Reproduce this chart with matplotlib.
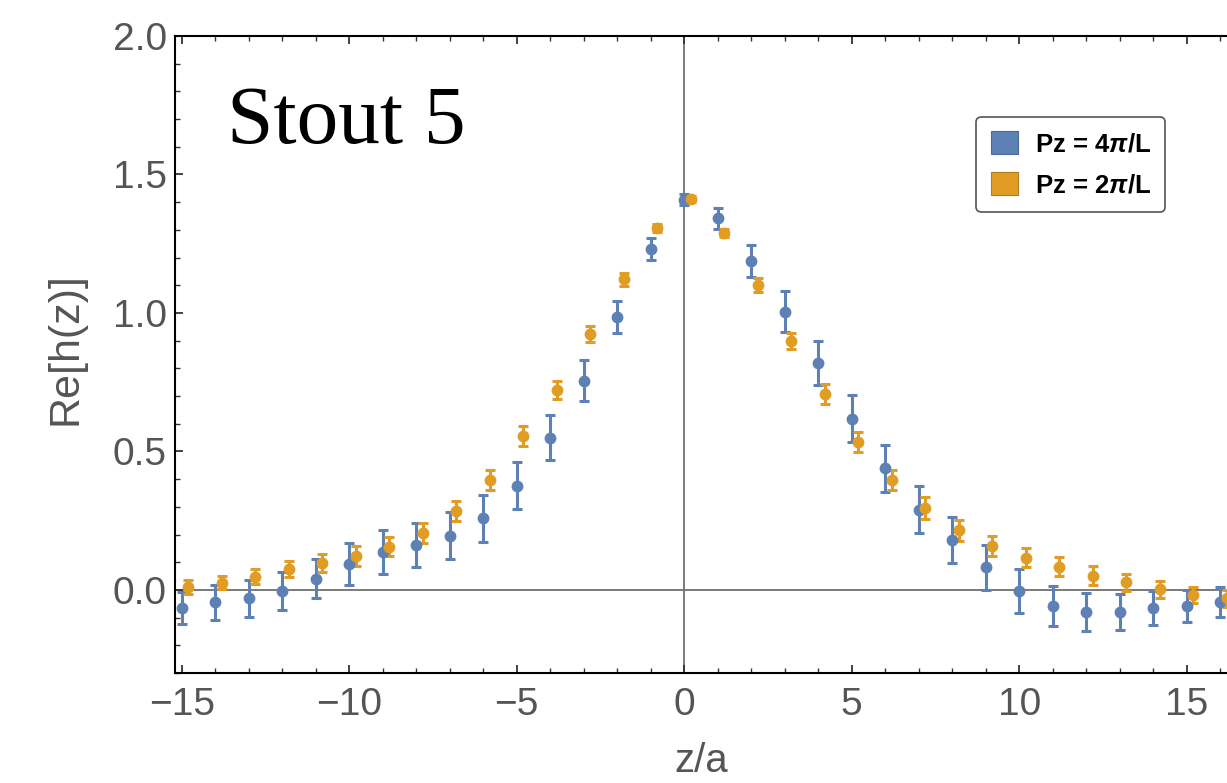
import numpy as np
import matplotlib
matplotlib.use("Agg")
from matplotlib import pyplot as plt
from matplotlib.patches import Patch
from matplotlib.ticker import MultipleLocator, FormatStrFormatter

# separation z/a
z = np.arange(-15, 17)

# Pz = 4 pi / L  (blue)
h_4pi = [-0.064, -0.045, -0.030, -0.004, 0.040, 0.094, 0.136, 0.162, 0.196, 0.259,
         0.377, 0.550, 0.755, 0.985, 1.231, 1.408,
         1.342, 1.189, 1.005, 0.818, 0.618, 0.439, 0.290, 0.180, 0.082, -0.004,
         -0.059, -0.080, -0.080, -0.065, -0.059, -0.043]
err_4pi = [0.058, 0.062, 0.066, 0.068, 0.070, 0.075, 0.079, 0.080, 0.084, 0.085,
           0.084, 0.080, 0.074, 0.059, 0.040, 0.020,
           0.038, 0.058, 0.073, 0.079, 0.084, 0.084, 0.085, 0.083, 0.081, 0.078,
           0.073, 0.068, 0.064, 0.060, 0.058, 0.055]

# Pz = 2 pi / L  (orange)
h_2pi = [0.010, 0.026, 0.048, 0.076, 0.096, 0.123, 0.156, 0.205, 0.285, 0.397,
         0.556, 0.722, 0.923, 1.122, 1.306, 1.412,
         1.288, 1.101, 0.899, 0.707, 0.535, 0.397, 0.295, 0.215, 0.160, 0.117,
         0.084, 0.052, 0.027, 0.002, -0.018, -0.031]
err_2pi = [0.025, 0.024, 0.027, 0.029, 0.032, 0.035, 0.035, 0.036, 0.037, 0.037,
           0.035, 0.032, 0.029, 0.024, 0.015, 0.010,
           0.015, 0.025, 0.030, 0.035, 0.036, 0.037, 0.040, 0.039, 0.036, 0.036,
           0.034, 0.033, 0.032, 0.030, 0.030, 0.030]

labels = [r"Pz = 4$\pi$/L", r"Pz = 2$\pi$/L"]
blue = "#5e81b5"
orange = "#e19c24"
gray = "#555555"

plt.rcParams["font.family"] = ["Liberation Sans", "DejaVu Sans"]
plt.rcParams["mathtext.fontset"] = "custom"
plt.rcParams["mathtext.it"] = "Liberation Sans:italic:bold"
plt.rcParams["mathtext.rm"] = "Liberation Sans:bold"

fig = plt.figure(figsize=(12.27, 7.83), dpi=100)
ax = fig.add_axes([175 / 1227, 1 - 673 / 783, 1 - 175 / 1227, (673 - 36) / 783])

ax.axhline(0, color="#707070", lw=1.3, zorder=1)
ax.axvline(0, color="#707070", lw=1.3, zorder=1)

ax.errorbar(z, h_4pi, yerr=err_4pi, fmt="o", ms=7.5, color=blue,
            elinewidth=2.2, capsize=3.6, capthick=2.2, zorder=3)
ax.errorbar(z + 0.2, h_2pi, yerr=err_2pi, fmt="o", ms=7.5, color=orange,
            elinewidth=2.2, capsize=3.6, capthick=2.2, zorder=3)

ax.set_xlim(-15.2, 16.2)
ax.set_ylim(-0.3, 2.0)
ax.xaxis.set_major_locator(MultipleLocator(5))
ax.xaxis.set_minor_locator(MultipleLocator(1))
ax.yaxis.set_major_locator(MultipleLocator(0.5))
ax.yaxis.set_minor_locator(MultipleLocator(0.1))
ax.yaxis.set_major_formatter(FormatStrFormatter("%.1f"))

for s in ["left", "bottom", "top"]:
    ax.spines[s].set_linewidth(1.5)
    ax.spines[s].set_color("black")
ax.spines["right"].set_visible(False)

ax.tick_params(which="both", direction="in", top=True, right=False,
               color="#333333", labelcolor=gray, labelsize=28)
ax.tick_params(which="major", length=6, width=1.3)
ax.tick_params(which="minor", length=3.5, width=1.0)
ax.tick_params(axis="x", pad=10)
ax.tick_params(axis="y", pad=6)

ax.set_xlabel("z/a", fontsize=29, color=gray, labelpad=14)
ax.set_ylabel("Re[h(z)]", fontsize=31, color=gray, labelpad=10)
ax.yaxis.set_label_coords(-0.085, 0.51)

fig.text(227 / 1227, 1 - 143 / 783, "Stout 5", fontsize=60,
         family="Liberation Serif", color="black", ha="left", va="baseline")

handles = [Patch(facecolor=blue, edgecolor="#4a6a99", lw=0.8),
           Patch(facecolor=orange, edgecolor="#b57d1c", lw=0.8)]
leg = fig.legend(handles, labels, loc="upper right",
                 bbox_to_anchor=(1165 / 1227, 1 - 117 / 783),
                 borderaxespad=0, fancybox=True, framealpha=1,
                 edgecolor="#555555", handlelength=1.08, handleheight=1.0,
                 handletextpad=0.64, labelspacing=0.62, borderpad=0.55,
                 prop={"size": 18.5, "weight": "bold"})
leg.get_frame().set_linewidth(1.2)

fig.savefig("out.png", dpi=100)
